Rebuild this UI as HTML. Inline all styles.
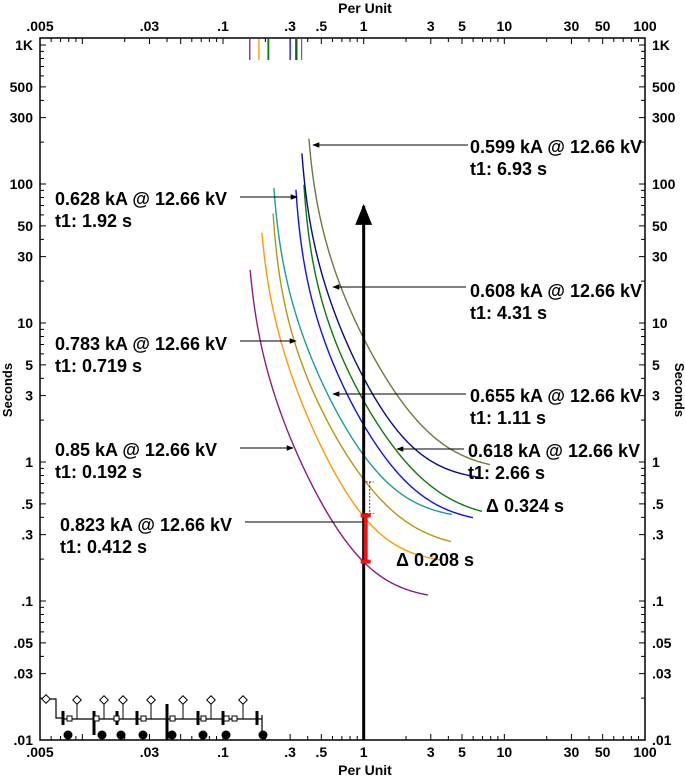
<!DOCTYPE html>
<html><head><meta charset="utf-8"><style>
html,body{margin:0;padding:0;background:#fff;}
svg{display:block;font-family:"Liberation Sans",Arial,sans-serif;font-weight:bold;}
</style></head><body>
<svg id="chart" width="685" height="777" viewBox="0 0 685 777" xmlns="http://www.w3.org/2000/svg">
<defs>
<marker id="ah" viewBox="0 0 10 10" refX="9" refY="5" markerWidth="7" markerHeight="7" orient="auto"><path d="M0,1 L10,5 L0,9 z" fill="#000"/></marker>
</defs>
<g id="frame-layer"></g>
<g id="curve-layer"></g>
<g id="annot-layer"></g>
</svg>
<script>
// ---- data ----
const xTickVals = [0.005,0.03,0.1,0.3,0.5,1,3,5,10,30,50,100];
const xTickLabels = [".005",".03",".1",".3",".5","1","3","5","10","30","50","100"];
const yTickVals = [1000,500,300,100,50,30,10,5,3,1,0.5,0.3,0.1,0.05,0.03,0.01];
const yTickLabels = ["1K","500","300","100","50","30","10","5","3","1",".5",".3",".1",".05",".03",".01"];
const curveNames = ["purple","orange","gold","teal","blue","green","navy","olive"];
const curveColors = ["#8b1a8b","#ff9900","#b8960c","#1a9c9c","#1010ee","#0a7a0a","#0a0a80","#6b7a3a"];
const curveX0 = [0.156,0.183,0.290,1,2.86];
const curveT0 = [24.5,7.42,1.67,0.192,0.11];
const curveX1 = [0.189,0.1956,0.258,0.436,1,3.48];
const curveT1 = [43.7,33.0,7.42,1.67,0.412,0.197];
const curveX2 = [0.227,0.242,0.3145,0.625,1,4.17];
const curveT2 = [59.8,33.0,7.42,1.67,0.719,0.270];
const curveX3 = [0.230,0.2625,0.370,0.799,1,4.24];
const curveT3 = [92.0,33.0,7.42,1.67,1.11,0.416];
const curveX4 = [0.330,0.370,0.514,1,5.98];
const curveT4 = [89.1,33.0,7.42,1.92,0.396];
const curveX5 = [0.376,0.429,0.615,1,1.725,6.93];
const curveT5 = [96.8,33.0,7.42,2.66,1.26,0.437];
const curveX6 = [0.364,0.473,0.701,1,2.43,6.49];
const curveT6 = [167,33.0,7.42,4.31,1.26,0.755];
const curveX7 = [0.408,0.567,0.989,1.54,7.90];
const curveT7 = [214,33.0,7.42,3.83,0.952];
const pickupX = [0.155,0.180,0.208,0.211,0.300,0.330,0.335,0.362];
const pickupColors = ["#8b1a8b","#ff9900","#b8960c","#0a7a0a","#1010ee","#0a0a80","#0a7a0a","#6b7a3a"];

// ---- scales ----
const X0=40, X1=645, Y0=45, Y1=740;
function sx(v){return X0+(Math.log10(v)-Math.log10(0.005))/(Math.log10(100)-Math.log10(0.005))*(X1-X0);}
function sy(v){return Y0+(3-Math.log10(v))/5*(Y1-Y0);}
const NS="http://www.w3.org/2000/svg";
function mk(tag,attrs,parent){const e=document.createElementNS(NS,tag);for(const k in attrs)e.setAttribute(k,attrs[k]);parent.appendChild(e);return e;}
const fr=document.getElementById('frame-layer');
const cl=document.getElementById('curve-layer');
const an=document.getElementById('annot-layer');

let box=mk('rect',{x:X0,y:38,width:X1-X0,height:Y1-38,fill:'none',stroke:'#000','stroke-width':1.5},fr);



let tp='';
for(let e=-3;e<=2;e++){for(let m=1;m<10;m++){const v=m*Math.pow(10,e);if(v<0.005||v>100)continue;const x=sx(v);const L=(m==1||m==3||m==5)?6:4;tp+=`M${x},38v${L}M${x},${Y1}v${-L}`;}}
for(let e=-2;e<=3;e++){for(let m=1;m<10;m++){const v=m*Math.pow(10,e);if(v>1000)continue;const y=sy(v);const L=(m==1||m==3||m==5)?6:4;tp+=`M${X0},${y}h${L}M${X1},${y}h${-L}`;}}
let ticks=mk('path',{d:tp,stroke:'#000','stroke-width':1,fill:'none'},fr);



xTickVals.forEach((v,i)=>{
  for(const yy of [31,757]){
    let t=mk('text',{x:sx(v),y:yy,'text-anchor':'middle','font-size':14},fr);t.textContent=xTickLabels[i];
    
    
  }
});
yTickVals.forEach((v,i)=>{
  let t=mk('text',{x:33,y:sy(v)+5,'text-anchor':'end','font-size':14},fr);t.textContent=yTickLabels[i];
  
  
  let t2=mk('text',{x:652,y:sy(v)+5,'text-anchor':'start','font-size':14},fr);t2.textContent=yTickLabels[i];
  
  
});
let xt=mk('text',{x:365,y:13,'text-anchor':'middle','font-size':14},fr);xt.textContent='Per Unit';


let xb=mk('text',{x:365,y:775,'text-anchor':'middle','font-size':14},fr);xb.textContent='Per Unit';


let yl=mk('text',{x:0,y:0,'text-anchor':'middle','font-size':13,transform:'translate(12,390) rotate(-90)'},fr);yl.textContent='Seconds';


let yr=mk('text',{x:0,y:0,'text-anchor':'middle','font-size':13,transform:'translate(675,390) rotate(90)'},fr);yr.textContent='Seconds';



// curves: fit inverse-time form t = k/((x/xp)^a - 1) + B to the read points
const CX=[curveX0,curveX1,curveX2,curveX3,curveX4,curveX5,curveX6,curveX7];
const CT=[curveT0,curveT1,curveT2,curveT3,curveT4,curveT5,curveT6,curveT7];
function fitInverse(xs,ts){
  let best=null;const xmin=xs[0];
  for(let a=0.2;a<=4.01;a+=0.05){
    for(let s=0;s<=80;s++){
      const xp=xmin*(0.3+0.695*s/80);
      let S11=0,S12=0,S22=0,b1=0,b2=0;
      const g=xs.map(x=>1/(Math.pow(x/xp,a)-1));
      for(let i=0;i<xs.length;i++){const w=1/(ts[i]*ts[i]);S11+=w*g[i]*g[i];S12+=w*g[i];S22+=w;b1+=w*g[i]*ts[i];b2+=w*ts[i];}
      const det=S11*S22-S12*S12;if(Math.abs(det)<1e-12)continue;
      let k=(b1*S22-b2*S12)/det,B=(S11*b2-S12*b1)/det;
      if(k<=0)continue;if(B<0)B=0;
      let err=0;for(let i=0;i<xs.length;i++){const m=k*g[i]+B;const r=Math.log(m/ts[i]);err+=r*r;}
      if(!best||err<best.err)best={a,xp,k,B,err};
    }
  }
  return x=>best.k/(Math.pow(x/best.xp,best.a)-1)+best.B;
}
CX.forEach((xs,i)=>{
  const f=fitInverse(xs,CT[i]);
  const u0=Math.log10(xs[0]),u1=Math.log10(xs[xs.length-1]);
  let d='';
  for(let k=0;k<=150;k++){const x=Math.pow(10,u0+(u1-u0)*k/150);
    d+=(k?'L':'M')+sx(x).toFixed(2)+','+sy(f(x)).toFixed(2);}
  let p=mk('path',{d:d,fill:'none',stroke:curveColors[i],'stroke-width':1.4},cl);
  
  
});
pickupX.forEach((v,i)=>{
  let l=mk('line',{x1:sx(v),y1:39,x2:sx(v),y2:60,stroke:pickupColors[i],'stroke-width':1.3},cl);
  
  
});

let va=mk('line',{x1:sx(1),y1:Y1,x2:sx(1),y2:206,stroke:'#000','stroke-width':3,'marker-end':'url(#ah)'},an);


const rx=sx(1)+2;
let rb=mk('path',{d:`M${rx},${sy(0.412)}V${sy(0.192)}M${rx-5},${sy(0.412)}h10M${rx-5},${sy(0.192)}h10`,stroke:'#ee1111','stroke-width':4,fill:'none'},an);


let db=mk('path',{d:`M${rx+4},${sy(0.719)}V${sy(0.412)}M${rx},${sy(0.719)}h8M${rx},${sy(0.412)-2}h8`,stroke:'#8b1a1a','stroke-width':1,'stroke-dasharray':'2,1.5',fill:'none'},an);



const labels=[
 {l1:"0.599 kA @ 12.66 kV",l2:"t1: 6.93 s",x:470,y:153,ax1:468,ay:145,ax2:313},
 {l1:"0.628 kA @ 12.66 kV",l2:"t1: 1.92 s",x:55,y:205,ax1:240,ay:197,ax2:297},
 {l1:"0.608 kA @ 12.66 kV",l2:"t1: 4.31 s",x:470,y:297,ax1:466,ay:287,ax2:333},
 {l1:"0.783 kA @ 12.66 kV",l2:"t1: 0.719 s",x:55,y:350,ax1:240,ay:341,ax2:296},
 {l1:"0.655 kA @ 12.66 kV",l2:"t1: 1.11 s",x:470,y:402,ax1:466,ay:394,ax2:333},
 {l1:"0.85 kA @ 12.66 kV",l2:"t1: 0.192 s",x:55,y:456,ax1:240,ay:448,ax2:293},
 {l1:"0.618 kA @ 12.66 kV",l2:"t1: 2.66 s",x:468,y:457,ax1:464,ay:449,ax2:397},
 {l1:"0.823 kA @ 12.66 kV",l2:"t1: 0.412 s",x:60,y:531,ax1:245,ay:522,ax2:null}
];
labels.forEach(o=>{
  let t=mk('text',{x:o.x,y:o.y,'font-size':18},an);t.textContent=o.l1;
  
  
  let t2=mk('text',{x:o.x,y:o.y+22,'font-size':18},an);t2.textContent=o.l2;
  
  
  let a;
  if(o.ax2!==null){a=mk('line',{x1:o.ax1,y1:o.ay,x2:o.ax2,y2:o.ay,stroke:'#000','stroke-width':1,'marker-end':'url(#ah)'},an);}
  else{a=mk('line',{x1:o.ax1,y1:o.ay,x2:sx(1),y2:o.ay,stroke:'#000','stroke-width':1},an);}
  
  
});
let d1=mk('text',{x:486,y:512,'font-size':18},an);d1.textContent='\u0394 0.324 s';


let d2=mk('text',{x:396,y:566,'font-size':18},an);d2.textContent='\u0394 0.208 s';



const od=mk('g',{stroke:'#000',fill:'none','stroke-width':1},an);


const busX=[63,94,117,137,167,198,223,257];
mk('path',{d:'M48,699h8v19h6M62,719H262M262,715v23',stroke:'#000','stroke-width':1.2},od);
mk('path',{d:busX.map(x=>`M${x},711v14`).join(''),stroke:'#000','stroke-width':3},od);
mk('path',{d:'M94,711v24M167,704v36',stroke:'#000','stroke-width':3},od);
mk('rect',{x:43,y:696,width:6,height:6,transform:'rotate(45 46 699)',fill:'#fff'},od);
[77,104,123,151,183,211,243].forEach(x=>{
  mk('rect',{x:x-3,y:697,width:6,height:6,transform:`rotate(45 ${x} 700)`,fill:'#fff'},od);
  mk('line',{x1:x,y1:704,x2:x,y2:719},od);
});
[69,96,116,143,172,203,226,234].forEach(x=>{mk('rect',{x:x-2,y:716,width:5,height:5,fill:'#fff'},od);});
[68,102,121,143,172,203,226,263].forEach(x=>{mk('circle',{cx:x,cy:735,r:4,fill:'#000'},od);});
</script>
</body></html>
